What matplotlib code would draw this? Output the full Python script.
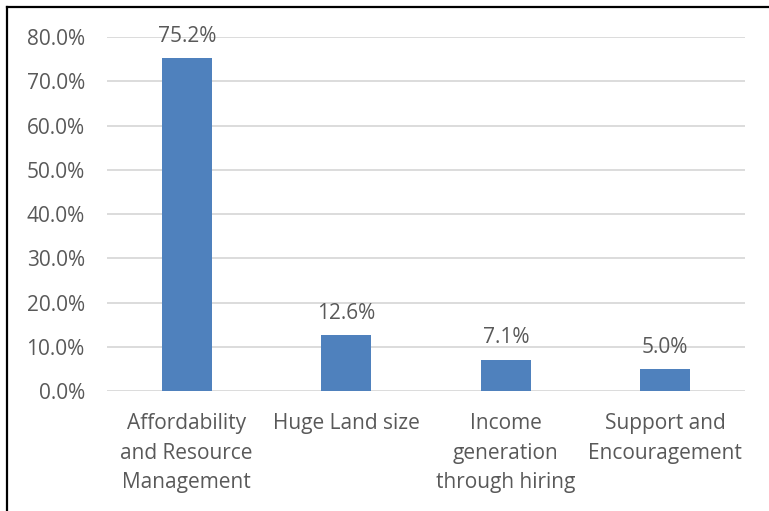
import matplotlib.pyplot as plt
from matplotlib.lines import Line2D
from matplotlib.ticker import PercentFormatter

categories = ['Affordability\nand Resource\nManagement', 'Huge Land size',
              'Income\ngeneration\nthrough hiring', 'Support and\nEncouragement']
values = [75.2, 12.6, 7.1, 5.0]
yticks = [0, 10, 20, 30, 40, 50, 60, 70, 80]

plt.rcParams['font.family'] = ['Open Sans', 'DejaVu Sans']
text_color = '#595959'

fig = plt.figure(figsize=(7.69, 5.11), dpi=100)
ax = fig.add_axes([107 / 769, 1 - 391 / 511, (745 - 107) / 769, (391 - 37) / 511])

x = range(len(categories))
bars = ax.bar(x, values, width=0.315, color='#4F81BD', zorder=3)
for b, v in zip(bars, values):
    ax.annotate(f'{v:.1f}%', (b.get_x() + b.get_width() / 2, v),
                xytext=(0, 8), textcoords='offset points', ha='center', va='bottom',
                fontsize=15, color=text_color)

ax.set_xlim(-0.5, 3.5)
ax.set_ylim(0, 80)
ax.set_yticks(yticks)
ax.yaxis.set_major_formatter(PercentFormatter(decimals=1))
ax.set_xticks(list(x))
ax.set_xticklabels(categories, linespacing=1.52)
ax.tick_params(axis='y', length=0, pad=16, labelsize=15, labelcolor=text_color)
ax.tick_params(axis='x', length=0, pad=16, labelsize=15, labelcolor=text_color)
ax.grid(axis='y', color='#D9D9D9', linewidth=1.3, zorder=0)
for s in ax.spines.values():
    s.set_visible(False)

# frame lines along the top and left edge
fig.add_artist(Line2D([7 / 769, 1], [1 - 7 / 511] * 2, transform=fig.transFigure,
                      color='black', linewidth=1.6))
fig.add_artist(Line2D([7 / 769] * 2, [0, 1 - 7 / 511], transform=fig.transFigure,
                      color='black', linewidth=1.6))

fig.savefig('out.png', dpi=100)
